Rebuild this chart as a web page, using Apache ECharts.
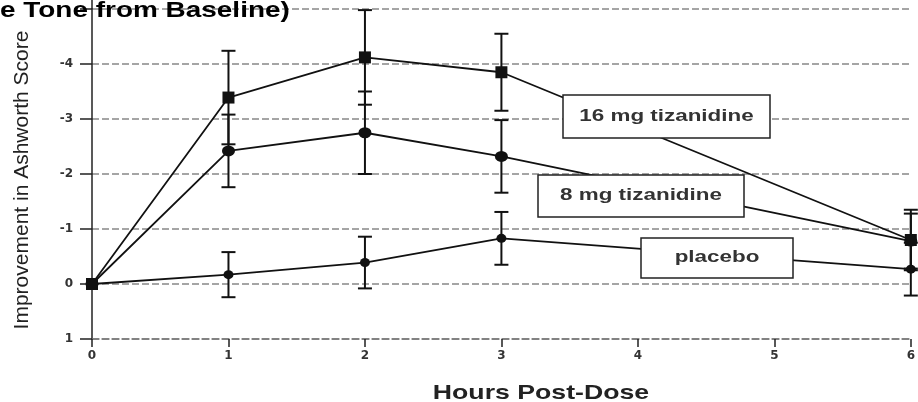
<!DOCTYPE html>
<html>
<head>
<meta charset="utf-8">
<script src="https://cdn.jsdelivr.net/npm/echarts@6/dist/echarts.min.js"></script>
<style>
  html, body { margin: 0; padding: 0; background: #fff; }
  #chart { width: 918px; height: 402px; }
</style>
</head>
<body>
<div id="chart"></div>
<script>
// ---- data ----
const hours = [0, 1, 2, 3, 6];
const mg16 = [0, -3.39, -4.12, -3.85, -0.80];
const mg16Err = [0, 0.85, 0.86, 0.70, 0.55];
const mg8 = [0, -2.42, -2.75, -2.32, -0.78];
const mg8Err = [0, 0.66, 0.75, 0.66, 0.50];
const placebo = [0, -0.17, -0.39, -0.83, -0.27];
const placeboErr = [0, 0.41, 0.47, 0.48, 0.48];
const seriesNames = ['16 mg tizanidine', '8 mg tizanidine', 'placebo'];
const xRange = [0, 6];
const yRange = [-5, 1];
const hiddenYLabel = -5;
const titleText = 'e Tone from Baseline)';
const xTitle = 'Hours Post-Dose';
const yTitle = 'Improvement in Ashworth Score';

// ---- build chart ----
const chart = echarts.init(document.getElementById('chart'), null, { renderer: 'canvas' });

function pairs(vals) { return hours.map((h, i) => [h, vals[i]]); }
function errData(vals, errs) {
  return hours.map((h, i) => [h, vals[i] - errs[i], vals[i] + errs[i]]).filter((d, i) => errs[i] > 0);
}
function errSeries(vals, errs) {
  return {
    type: 'custom',
    z: 1,
    clip: false,
    data: errData(vals, errs),
    renderItem: function (params, api) {
      const x = api.value(0);
      const p1 = api.coord([x, api.value(1)]);
      const p2 = api.coord([x, api.value(2)]);
      const w = 7;
      const st = { stroke: '#111', lineWidth: 2 };
      return {
        type: 'group',
        children: [
          { type: 'line', shape: { x1: p1[0], y1: p1[1], x2: p2[0], y2: p2[1] }, style: st },
          { type: 'line', shape: { x1: p1[0] - w, y1: p1[1], x2: p1[0] + w, y2: p1[1] }, style: st },
          { type: 'line', shape: { x1: p2[0] - w, y1: p2[1], x2: p2[0] + w, y2: p2[1] }, style: st }
        ]
      };
    }
  };
}
function lineSeries(name, vals, symbol, size) {
  return {
    name: name,
    type: 'line',
    z: 3,
    data: pairs(vals),
    symbol: symbol,
    symbolSize: size,
    showAllSymbol: true,
    lineStyle: { color: '#111', width: 1.8 },
    itemStyle: { color: '#111', borderWidth: 0 },
    emphasis: { disabled: true }
  };
}
function boxLabel(text, x, y, w, h) {
  return {
    type: 'group',
    z: 100,
    children: [
      { type: 'rect', z: 100, shape: { x: x, y: y, width: w, height: h },
        style: { fill: '#fff', stroke: '#222', lineWidth: 1.5 } },
      { type: 'text', z: 101, x: x + w / 2, y: y + h / 2, scaleX: 1.4,
        style: { text: text, x: 0, y: 0, font: 'bold 16px "Liberation Sans", Arial, sans-serif',
                 fill: '#333', align: 'center', verticalAlign: 'middle',
                 textAlign: 'center', textVerticalAlign: 'middle' } }
    ]
  };
}

const option = {
  animation: false,
  backgroundColor: '#fff',
  grid: { left: 92, right: 4, top: 9, bottom: 63, containLabel: false },
  xAxis: {
    type: 'value',
    min: xRange[0], max: xRange[1], interval: 1,
    position: 'bottom',
    axisLine: { show: true, onZero: false, lineStyle: { color: '#777', width: 1.5, type: [7, 3] } },
    axisTick: { show: true, length: 8, lineStyle: { color: '#222', width: 1.5 } },
    axisLabel: { margin: 11, fontFamily: 'DejaVu Sans', fontWeight: 'bold', fontSize: 12, color: '#333' },
    splitLine: { show: false }
  },
  yAxis: {
    type: 'value',
    inverse: true,
    min: yRange[0], max: yRange[1], interval: 1,
    axisLine: { show: true, onZero: false, lineStyle: { color: '#222', width: 1.5 } },
    axisTick: { show: true, length: 12, lineStyle: { color: '#222', width: 1.5 } },
    axisLabel: {
      margin: 19, fontFamily: 'DejaVu Sans', fontWeight: 'bold', fontSize: 12, color: '#333',
      formatter: function (v) { return v === hiddenYLabel ? '' : String(v); }
    },
    splitLine: { show: true, lineStyle: { color: '#888', width: 1.5, type: [7, 3] } }
  },
  series: [
    errSeries(placebo, placeboErr),
    errSeries(mg8, mg8Err),
    errSeries(mg16, mg16Err),
    lineSeries(seriesNames[2], placebo, 'circle', [10, 9]),
    lineSeries(seriesNames[1], mg8, 'circle', [13, 11]),
    lineSeries(seriesNames[0], mg16, 'rect', 12)
  ],
  graphic: [
    { type: 'line', z: 50, shape: { x1: 92, y1: 0, x2: 92, y2: 9 }, style: { stroke: '#222', lineWidth: 1.5 } },
    { type: 'text', z: 100, x: 0, y: 11, scaleX: 1.27,
      style: { text: titleText, x: 0, y: 0, font: 'bold 22px "Liberation Sans", Arial, sans-serif', fill: '#000',
               align: 'left', verticalAlign: 'middle', textAlign: 'left', textVerticalAlign: 'middle' } },
    { type: 'text', z: 100, x: 22, y: 180, rotation: Math.PI / 2,
      style: { text: yTitle, x: 0, y: 0, font: '21px "Liberation Sans", Arial, sans-serif', fill: '#222',
               align: 'center', verticalAlign: 'middle', textAlign: 'center', textVerticalAlign: 'middle' } },
    { type: 'text', z: 100, x: 541, y: 393, scaleX: 1.27,
      style: { text: xTitle, x: 0, y: 0, font: 'bold 21px "Liberation Sans", Arial, sans-serif', fill: '#222',
               align: 'center', verticalAlign: 'middle', textAlign: 'center', textVerticalAlign: 'middle' } },
    boxLabel(seriesNames[0], 563, 95, 207, 43),
    boxLabel(seriesNames[1], 538, 175, 206, 42),
    boxLabel(seriesNames[2], 641, 238, 152, 40)
  ]
};
chart.setOption(option);
</script>
</body>
</html>
